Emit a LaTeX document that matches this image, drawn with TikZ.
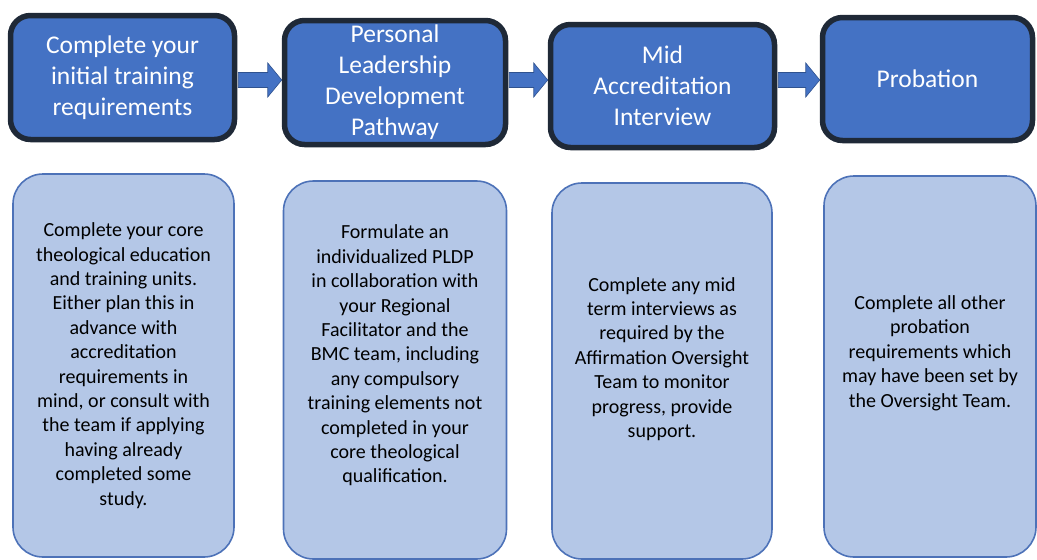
\documentclass[tikz,border=0pt]{standalone}
\usepackage{fontspec}
\setmainfont{Carlito}
\usepackage{tikz}
\usetikzlibrary{calc}

\definecolor{stagefill}{HTML}{4472C4}
\definecolor{stageline}{HTML}{1F2937}
\definecolor{detailfill}{HTML}{B4C7E7}
\definecolor{detailline}{HTML}{4D72B8}
\definecolor{flowline}{HTML}{2F528F}

\tikzset{
  stage/.style={draw=stageline, line width=5.5pt, fill=stagefill, rounded corners=20pt,
    text=white, font=\fontsize{25.5}{31}\selectfont, align=center, inner sep=0pt,
    minimum height=124pt},
  detail/.style={draw=detailline, line width=1.6pt, fill=detailfill, rounded corners=30pt,
    inner sep=0pt},
  detailtext/.style={font=\fontsize{20}{24.4}\selectfont, align=center, text=black, inner sep=0pt},
  flow/.style={draw=flowline, line width=0.6pt, fill=stagefill},
}

\begin{document}
\begin{tikzpicture}[x=1pt, y=-1pt]
  \useasboundingbox (0,0) rectangle (1037,560);

  % stage headers
  \node[stage, minimum width=224pt] (s1) at (122.5,77.5) {Complete your\\initial training\\requirements};
  \node[stage, minimum width=221pt] (s2) at (395,82.5) {Personal\\Leadership\\Development\\Pathway};
  \node[stage, minimum width=224pt, minimum height=123pt] (s3) at (662.5,86) {Mid\\Accreditation\\Interview};
  \node[stage, minimum width=210pt, minimum height=123pt] (s4) at (927.5,79) {Probation};

  % block arrows between stages
  \coordinate (axis) at (0,80);
  \foreach \a/\b in {s1/s2, s2/s3, s3/s4} {
    \draw[flow] let \p1=(\a.east), \p2=(\b.west), \p3=(axis) in
      (\x1+1pt,\y3+7.5pt) -- (\x2-14pt,\y3+7.5pt) -- (\x2-14pt,\y3+17pt) -- (\x2,\y3)
      -- (\x2-14pt,\y3-17pt) -- (\x2-14pt,\y3-7.5pt) -- (\x1+1pt,\y3-7.5pt) -- cycle;
  }

  % details under each stage
  \node[detail, minimum width=221pt, minimum height=383pt,
    label={[detailtext]center:{Complete your core\\theological education\\and training units.\\Either plan this in\\advance with\\accreditation\\requirements in\\mind, or consult with\\the team if applying\\having already\\completed some\\study.}}] (d1) at (123.5,365.5) {};
  \node[detail, minimum width=223pt, minimum height=378pt,
    label={[detailtext, yshift=14.5pt]center:{Formulate an\\individualized PLDP\\in collaboration with\\your Regional\\Facilitator and the\\BMC team, including\\any compulsory\\training elements not\\completed in your\\core theological\\qualification.}}] (d2) at (395,370) {};
  \node[detail, minimum width=220pt, minimum height=376pt,
    label={[detailtext, yshift=12pt]center:{Complete any mid\\term interviews as\\required by the\\Affirmation Oversight\\Team to monitor\\progress, provide\\support.}}] (d3) at (662,371) {};
  \node[detail, minimum width=212pt, minimum height=381pt,
    label={[detailtext, yshift=13.5pt]center:{Complete all other\\probation\\requirements which\\may have been set by\\the Oversight Team.}}] (d4) at (930,366.5) {};
\end{tikzpicture}
\end{document}
